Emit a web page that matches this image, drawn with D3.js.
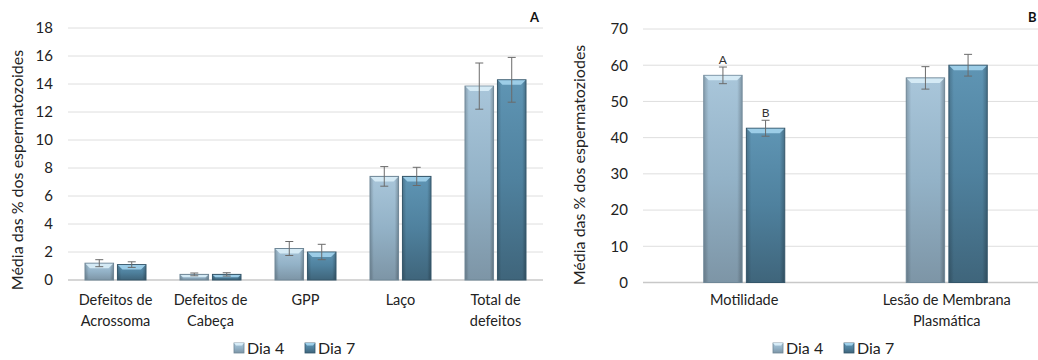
<!DOCTYPE html>
<html><head><meta charset="utf-8">
<script src="https://cdn.jsdelivr.net/npm/d3@7"></script>
<style>
body{margin:0;background:#fff;}
svg{display:block;font-family:Lato,"Open Sans",sans-serif;}
</style></head>
<body><svg id="c" width="1038" height="360"></svg>
<script>
const series = ["Dia 4","Dia 7"];
// Panel A
const catsA = ["Defeitos de\nAcrossoma","Defeitos de\nCabeça","GPP","Laço","Total de\ndefeitos"];
const dia4A = [1.2, 0.4, 2.25, 7.4, 13.85];
const dia7A = [1.1, 0.4, 2.0, 7.4, 14.3];
const errA4 = [0.25, 0.1, 0.5, 0.7, 1.65];
const errA7 = [0.2, 0.12, 0.55, 0.65, 1.6];
const ticksA = [0,2,4,6,8,10,12,14,16,18];
// Panel B
const catsB = ["Motilidade","Lesão de Membrana\nPlasmática"];
const dia4B = [57.2, 56.5];
const dia7B = [42.6, 60.0];
const errB4 = [2.3, 3.1];
const errB7 = [2.2, 3.0];
const lettersB4 = ["A",""];
const lettersB7 = ["B",""];
const ticksB = [0,10,20,30,40,50,60,70];
const yTitleA = "Média das % dos espermatozoides";
const yTitleB = "Média das % dos espermatoziodes";

const svg = d3.select("#c");
const defs = svg.append("defs");
const colors = [
  {top:"#a9c6da", mid:"#93b2c7", bot:"#7d95a6", edge:"#6f8797", hi:"#d7ecf7"},
  {top:"#5f95b4", mid:"#4f819e", bot:"#3f657b", edge:"#34566a", hi:"#9fd0ea"}
];
colors.forEach((c,i)=>{
  const g = defs.append("linearGradient").attr("id","g"+i).attr("x1",0).attr("y1",0).attr("x2",0).attr("y2",1);
  g.append("stop").attr("offset","0%").attr("stop-color",c.top);
  g.append("stop").attr("offset","50%").attr("stop-color",c.mid);
  g.append("stop").attr("offset","100%").attr("stop-color",c.bot);
  const h = defs.append("linearGradient").attr("id","h"+i).attr("x1",0).attr("y1",0).attr("x2",1).attr("y2",0);
  h.append("stop").attr("offset","0%").attr("stop-color","#000").attr("stop-opacity",0.18);
  h.append("stop").attr("offset","12%").attr("stop-color","#000").attr("stop-opacity",0);
  h.append("stop").attr("offset","88%").attr("stop-color","#000").attr("stop-opacity",0);
  h.append("stop").attr("offset","100%").attr("stop-color","#000").attr("stop-opacity",0.22);
});

function panel(cfg){
  const g = svg.append("g");
  const y = d3.scaleLinear().domain(cfg.domain).range([cfg.bottom, cfg.top]);
  const x = d3.scaleBand().domain(cfg.cats).range([cfg.left, cfg.right]).paddingInner(cfg.pad).paddingOuter(cfg.pad/2);
  const xs = d3.scaleBand().domain(series).range([0, x.bandwidth()]).paddingInner(cfg.innerPad);
  const clipW = cfg.clipRight;
  g.selectAll("line.grid").data(cfg.ticks).join("line")
    .attr("x1", cfg.left).attr("x2", Math.min(cfg.right, clipW))
    .attr("y1", d=>y(d)).attr("y2", d=>y(d))
    .attr("stroke", d=> d===0 ? "#c8c8c8" : "#dedede").attr("stroke-width", d=> d===0?1.5:1);
  const ax = g.append("g").attr("transform", `translate(${cfg.left - 15},0)`)
    .call(d3.axisLeft(y).tickValues(cfg.ticks).tickSize(0).tickPadding(0));
  ax.select(".domain").remove();
  ax.selectAll("text").attr("font-size", 15).attr("fill","#222").attr("font-family","Lato,sans-serif");
  const data = [];
  cfg.cats.forEach((c,i)=>{
    series.forEach((s,j)=>{
      data.push({c, s, j, v: cfg.vals[j][i], e: cfg.errs[j][i], l: cfg.letters ? cfg.letters[j][i] : ""});
    });
  });
  const bars = g.selectAll("g.bar").data(data).join("g");
  bars.each(function(d){
    const bx = x(d.c) + xs(d.s), bw = xs.bandwidth();
    const by = y(d.v), bh = y(0) - y(d.v);
    const sel = d3.select(this);
    const c = colors[d.j];
    sel.append("rect").attr("x", bx).attr("y", by).attr("width", bw).attr("height", bh)
      .attr("fill", `url(#g${d.j})`).attr("stroke", c.edge).attr("stroke-width", 1);
    sel.append("rect").attr("x", bx+0.5).attr("y", by+0.5).attr("width", bw-1).attr("height", Math.max(0,bh-1))
      .attr("fill", `url(#h${d.j})`);
    const bev = Math.min(5, bh/2);
    sel.append("path")
      .attr("d", `M${bx+0.5},${by+0.5} L${bx+bw-0.5},${by+0.5} L${bx+bw-bev},${by+bev} L${bx+bev},${by+bev} Z`)
      .attr("fill", c.hi).attr("opacity", 0.95);
    const cx = bx + bw/2;
    const cap = 4;
    sel.append("line").attr("x1",cx).attr("x2",cx).attr("y1",y(d.v+d.e)).attr("y2",y(d.v-d.e))
      .attr("stroke","#6b6b6b").attr("stroke-width",1);
    [d.v+d.e, d.v-d.e].forEach(v=>{
      sel.append("line").attr("x1",cx-cap).attr("x2",cx+cap).attr("y1",y(v)).attr("y2",y(v))
        .attr("stroke","#6b6b6b").attr("stroke-width",1);
    });
    if (d.l) {
      sel.append("text").attr("x", cx).attr("y", y(d.v+d.e) - 3).attr("text-anchor","middle")
        .attr("font-size", 12).attr("fill","#333").text(d.l);
    }
  });
  cfg.cats.forEach(c=>{
    const lines = c.split("\n");
    const t = g.append("text").attr("text-anchor","middle").attr("font-size",14.5).attr("fill","#222");
    lines.forEach((ln,k)=>{
      t.append("tspan").attr("x", x(c)+x.bandwidth()/2).attr("y", cfg.labelY + k*21).text(ln);
    });
  });
  g.append("text").attr("transform", `translate(${cfg.titleX},${cfg.titleY}) rotate(-90)`)
    .attr("text-anchor","middle").attr("font-size",16).attr("fill","#222").text(cfg.ytitle);
  g.append("text").attr("x", cfg.letterX).attr("y", 22).attr("font-size",13).attr("font-weight","bold")
    .attr("fill","#111").text(cfg.letter);
  const lg = g.append("g");
  series.forEach((s,j)=>{
    const lx = cfg.legendX + j*71;
    const c = colors[j];
    lg.append("rect").attr("x", lx).attr("y", 343).attr("width", 10).attr("height", 10)
      .attr("fill", `url(#g${j})`).attr("stroke", c.edge).attr("stroke-width",0.8);
    lg.append("path").attr("d", `M${lx},${343} L${lx+10},${343} L${lx+8},${345.5} L${lx+2},${345.5} Z`).attr("fill", c.hi);
    lg.append("text").attr("x", lx+13).attr("y", 354).attr("font-size",16).attr("fill","#222").text(s);
  });
}

panel({cats:catsA, vals:[dia4A,dia7A], errs:[errA4,errA7], domain:[0,18], ticks:ticksA,
  top:28, bottom:280, left:68, right:543, pad:0.358, innerPad:0.12, clipRight:543,
  labelY:305, ytitle:yTitleA, titleX:23, titleY:170, letter:"A", letterX:530, legendX:234});

panel({cats:catsB, vals:[dia4B,dia7B], errs:[errB4,errB7], letters:[lettersB4,lettersB7], domain:[0,70], ticks:ticksB,
  top:29, bottom:282.5, left:643, right:1048, pad:0.6, innerPad:0.1, clipRight:1038,
  labelY:305, ytitle:yTitleB, titleX:585, titleY:165, letter:"B", letterX:1028, legendX:773});
</script></body></html>
